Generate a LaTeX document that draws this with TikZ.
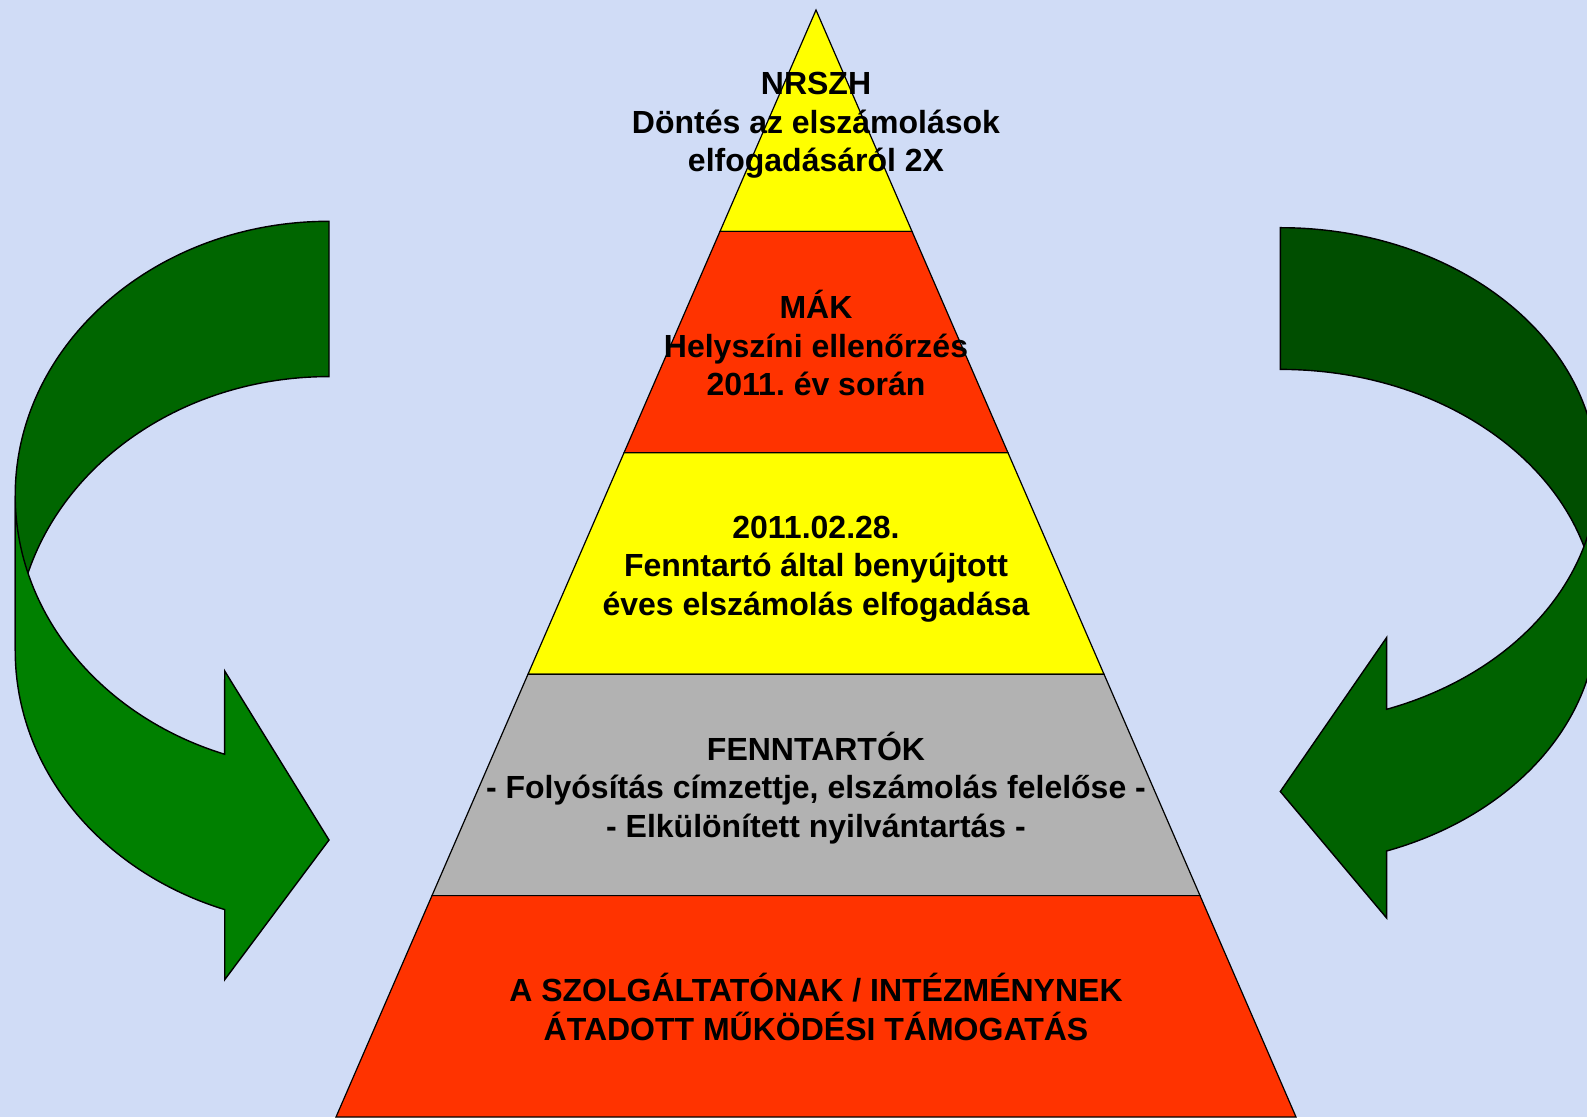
\documentclass[tikz,border=0pt]{standalone}
\usepackage{fontspec}
\setmainfont{Liberation Sans}
\frenchspacing
\usetikzlibrary{calc}
\definecolor{bgblue}{RGB}{208,220,246}
\definecolor{pyrylw}{RGB}{255,255,0}
\definecolor{pyrred}{RGB}{255,51,0}
\definecolor{pyrgry}{RGB}{178,178,178}
\definecolor{lbackgrn}{RGB}{0,102,0}
\definecolor{lfrontgrn}{RGB}{0,128,0}
\definecolor{rbackgrn}{RGB}{0,78,0}
\definecolor{rfrontgrn}{RGB}{0,98,0}
\tikzset{
  band/.style={draw=black, line width=1.2pt},
  bigarrow/.style={draw=black, line width=1.4pt},
  lbl/.style={align=center, inner sep=0pt, font=\fontsize{32}{38.5}\selectfont\bfseries}
}
\begin{document}
\begin{tikzpicture}[x=1pt,y=1pt]
\useasboundingbox (0,0) rectangle (1587,1117);
\clip (0,0) rectangle (1587,1117);
\fill[bgblue] (0,0) rectangle (1587,1117);
% pyramid
\coordinate (apex) at (816,1107);
\coordinate (bl) at (336,0);
\coordinate (br) at (1296,0);
\foreach \a/\b/\c in {0/0.2/pyrylw, 0.2/0.4/pyrred, 0.4/0.6/pyrylw, 0.6/0.8/pyrgry, 0.8/1/pyrred}
  \filldraw[band, fill=\c] ($(apex)!\a!(bl)$) -- ($(apex)!\b!(bl)$) -- ($(apex)!\b!(br)$) -- ($(apex)!\a!(br)$) -- cycle;
\node[lbl] (nrszh) at (816,991.5) {NRSZH\\Döntés az elszámolások\\elfogadásáról 2X};
\node[lbl] (mak) at (816,774) {MÁK\\Helyszíni ellenőrzés\\2011. év során};
\node[lbl] (benyujt) at (816,548) {2011.02.28.\\Fenntartó által benyújtott\\éves elszámolás elfogadása};
\node[lbl] (fenntart) at (816,329) {FENNTARTÓK\\- Folyósítás címzettje, elszámolás felelőse -\\- Elkülönített nyilvántartás -};
\node[lbl] (tamog) at (816,110) {A SZOLGÁLTATÓNAK / INTÉZMÉNYNEK\\ÁTADOTT MŰKÖDÉSI TÁMOGATÁS};
% left arrow
\filldraw[bigarrow, fill=lbackgrn] (329,895.7) arc[start angle=90, end angle=180, x radius=313.8, y radius=274.3]
  -- (15.2,466.1) arc[start angle=180, end angle=90, x radius=313.8, y radius=274.3] -- cycle;
\filldraw[bigarrow, fill=lfrontgrn] (15.2,621.4) arc[start angle=180, end angle=250.58, x radius=313.8, y radius=274.3]
  -- (224.7,446) -- (329,277) -- (224.7,137.3) -- (224.7,207.4)
  arc[start angle=250.58, end angle=180, x radius=313.8, y radius=274.3] -- cycle;
% right arrow
\filldraw[bigarrow, fill=rbackgrn] (1280.3,889.3) arc[start angle=90, end angle=0, x radius=316.8, y radius=248]
  -- (1597.1,499.6) arc[start angle=0, end angle=90, x radius=316.8, y radius=248] -- cycle;
\filldraw[bigarrow, fill=rfrontgrn] (1597.1,641.3) arc[start angle=0, end angle=-70.4, x radius=316.8, y radius=248]
  -- (1386.6,479.4) -- (1280.3,325.5) -- (1386.6,199) -- (1386.6,266)
  arc[start angle=-70.4, end angle=0, x radius=316.8, y radius=248] -- cycle;
\end{tikzpicture}
\end{document}
